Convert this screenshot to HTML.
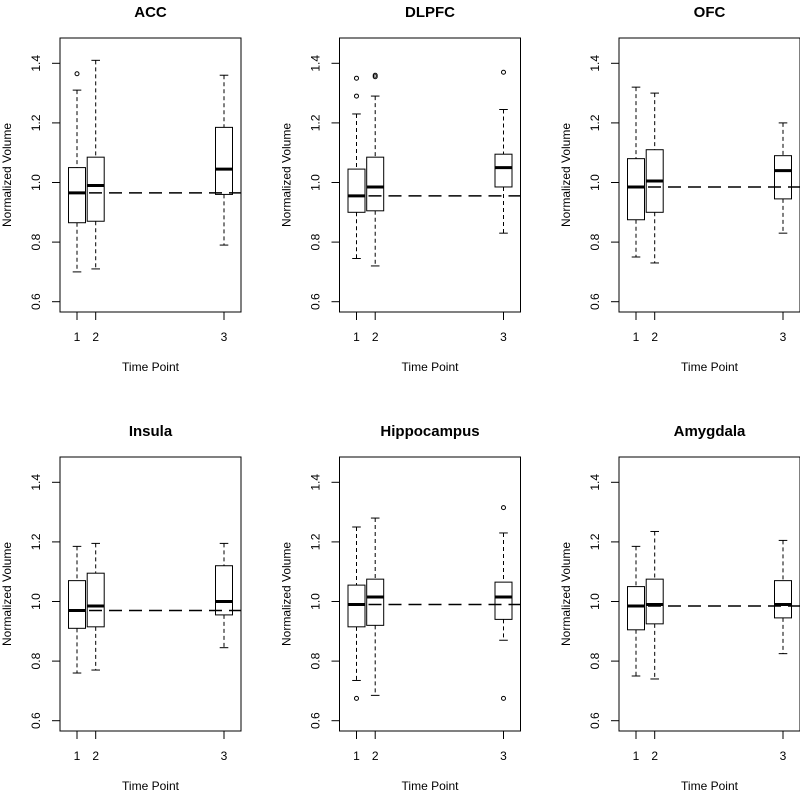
<!DOCTYPE html>
<html><head><meta charset="utf-8"><style>
html,body{margin:0;padding:0;background:#fff;}
svg{display:block;font-family:"Liberation Sans",Arial,sans-serif;}
</style></head><body>
<svg id="s" width="800" height="791" viewBox="0 0 800 791" xmlns="http://www.w3.org/2000/svg"></svg>
<script>
const panels=[
["ACC",0.965,[[0.70,0.865,0.965,1.05,1.31,[1.365]],[0.71,0.87,0.99,1.085,1.41,[]],[0.79,0.96,1.045,1.185,1.36,[]]]],
["DLPFC",0.955,[[0.745,0.90,0.955,1.045,1.23,[1.35,1.29]],[0.72,0.905,0.985,1.085,1.29,[1.36,1.355]],[0.83,0.985,1.05,1.095,1.245,[1.37]]]],
["OFC",0.985,[[0.75,0.875,0.985,1.08,1.32,[]],[0.73,0.90,1.005,1.11,1.30,[]],[0.83,0.945,1.04,1.09,1.20,[]]]],
["Insula",0.97,[[0.76,0.91,0.97,1.07,1.185,[]],[0.77,0.915,0.985,1.095,1.195,[]],[0.845,0.955,1.0,1.12,1.195,[]]]],
["Hippocampus",0.99,[[0.735,0.915,0.99,1.055,1.25,[0.675]],[0.685,0.92,1.015,1.075,1.28,[]],[0.87,0.94,1.015,1.065,1.23,[1.315,0.675]]]],
["Amygdala",0.985,[[0.75,0.905,0.985,1.05,1.185,[]],[0.74,0.925,0.99,1.075,1.235,[]],[0.825,0.945,0.99,1.07,1.205,[]]]]
];
let h="";
panels.forEach((p,i)=>{
 const c=i%3,r=Math.floor(i/3);
 const X=60+c*279.5, Y=38+r*419, W=181, H=274;
 const y=v=>Y+25.3+(1.4-v)*298;
 const cx=[X+17,X+35.7,X+164];
 h+=`<text x="${X+W/2}" y="${Y-21}" text-anchor="middle" font-weight="bold" font-size="15">${p[0]}</text>`;
 h+=`<rect x="${X}" y="${Y}" width="${W}" height="${H}" fill="none" stroke="#000" stroke-width="1"/>`;
 [0.6,0.8,1.0,1.2,1.4].forEach(v=>{const yy=y(v);
  h+=`<line x1="${X}" x2="${X-8}" y1="${yy}" y2="${yy}" stroke="#000"/>`;
  h+=`<text transform="translate(${X-20},${yy}) rotate(-90)" text-anchor="middle" font-size="12">${v.toFixed(1)}</text>`;});
 cx.forEach((x,k)=>{h+=`<line x1="${x}" x2="${x}" y1="${Y+H}" y2="${Y+H+8}" stroke="#000"/><text x="${x}" y="${Y+H+29}" text-anchor="middle" font-size="12">${k+1}</text>`;});
 h+=`<text x="${X+W/2}" y="${Y+H+59}" text-anchor="middle" font-size="12">Time Point</text>`;
 h+=`<text transform="translate(${X-49},${Y+H/2}) rotate(-90)" text-anchor="middle" font-size="12">Normalized Volume</text>`;
 p[2].forEach((b,k)=>{const x=cx[k],bw=8.5,cw=4.3;
  h+=`<line x1="${x}" x2="${x}" y1="${y(b[4])}" y2="${y(b[3])}" stroke="#000" stroke-dasharray="4,3"/>`;
  h+=`<line x1="${x}" x2="${x}" y1="${y(b[1])}" y2="${y(b[0])}" stroke="#000" stroke-dasharray="4,3"/>`;
  h+=`<line x1="${x-cw}" x2="${x+cw}" y1="${y(b[4])}" y2="${y(b[4])}" stroke="#000"/>`;
  h+=`<line x1="${x-cw}" x2="${x+cw}" y1="${y(b[0])}" y2="${y(b[0])}" stroke="#000"/>`;
  h+=`<rect x="${x-bw}" y="${y(b[3])}" width="${2*bw}" height="${y(b[1])-y(b[3])}" fill="none" stroke="#000"/>`;
  h+=`<line x1="${x-bw}" x2="${x+bw}" y1="${y(b[2])}" y2="${y(b[2])}" stroke="#000" stroke-width="3"/>`;
  b[5].forEach(o=>{h+=`<circle cx="${x}" cy="${y(o)}" r="2" fill="none" stroke="#000"/>`;});
 });
 h+=`<line x1="${cx[0]-8}" x2="${X+W}" y1="${y(p[1])}" y2="${y(p[1])}" stroke="#000" stroke-width="1.5" stroke-dasharray="13,7"/>`;
});
document.getElementById("s").innerHTML=h;
</script>
</body></html>
